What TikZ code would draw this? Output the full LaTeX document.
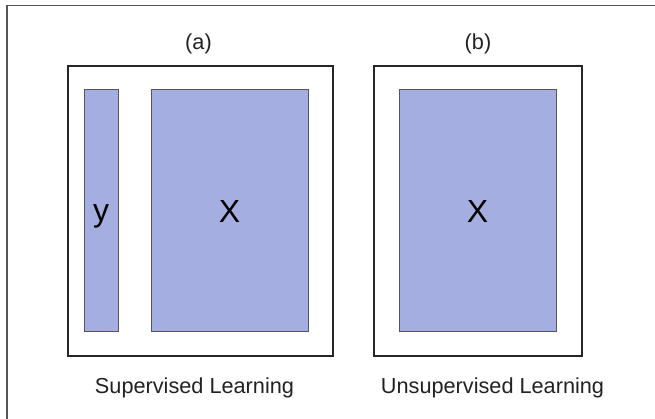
\documentclass[tikz,border=0pt]{standalone}
\usepackage{fontspec}
\setmainfont{Liberation Sans}
\definecolor{fillblue}{HTML}{A4AEE0}
\definecolor{edgegray}{HTML}{555555}
\definecolor{framegray}{HTML}{555555}
\definecolor{txt}{HTML}{222222}
\begin{document}
\begin{tikzpicture}[x=1pt,y=-1pt,
  frame/.style={draw=black!85, line width=2pt},
  blk/.style={draw=edgegray, fill=fillblue, line width=1pt},
  captext/.style={anchor=base, text=txt, font=\fontsize{21.7}{26}\selectfont, inner sep=0pt},
  bigtext/.style={anchor=base, text=black, font=\fontsize{32}{38}\selectfont, inner sep=0pt}]
\useasboundingbox (0,0) rectangle (655,419);
\fill[white] (0,0) rectangle (655,419);
% outer border (top and left)
\coordinate (bl) at (7,419);
\coordinate (tl) at (7,5.5);
\coordinate (tr) at (655,5.5);
\draw[framegray, line width=1.6pt] (bl) -- (tl) -- (tr);
% frames
\draw[frame] (68,66) rectangle (333,356);
\draw[frame] (374,66) rectangle (582,356);
% blocks
\draw[blk] (84,90) rectangle (118,331);
\draw[blk] (151,90) rectangle (308,331);
\draw[blk] (399,90) rectangle (556,331);
% labels
\node[captext] (la) at (198.5,50) {(a)};
\node[captext] (lb) at (478,50) {(b)};
\node[bigtext] (ty) at (101,222) {y};
\node[bigtext] (tx1) at (229.5,223) {X};
\node[bigtext] (tx2) at (477.5,223) {X};
\node[captext] (sup) at (194.5,393) {Supervised Learning};
\node[captext] (uns) at (492.5,393) {Unsupervised Learning};
\end{tikzpicture}
\end{document}
